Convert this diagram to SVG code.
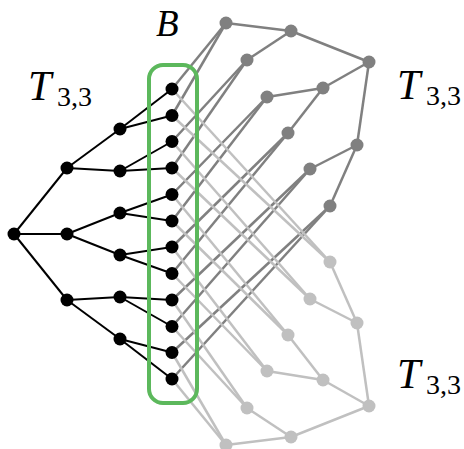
<svg xmlns="http://www.w3.org/2000/svg" width="464" height="449" viewBox="0 0 464 449">
<style>
.k line{stroke:#000;stroke-width:2}
.d line{stroke:#808080;stroke-width:2.5}
.l line{stroke:#c0c0c0;stroke-width:2.5}
.nk circle{fill:#000}
.nd circle{fill:#808080}
.nl circle{fill:#c0c0c0}
.m{font-family:"Liberation Serif",serif;font-style:italic;font-size:42px;fill:#000}
.b{font-family:"Liberation Serif",serif;font-style:italic;font-size:37px;fill:#000}
.s{font-family:"Liberation Serif",serif;font-style:normal;font-size:28px;fill:#000}
</style>
<rect width="464" height="449" fill="#fff"/>
<g id="connectors">
<g class="d">
<line x1="369" y1="62" x2="291" y2="31"/><line x1="369" y1="62" x2="323" y2="88"/><line x1="369" y1="62" x2="357" y2="145"/>
<line x1="291" y1="31" x2="226" y2="23"/><line x1="291" y1="31" x2="247" y2="60"/>
<line x1="323" y1="88" x2="267" y2="97"/><line x1="323" y1="88" x2="288" y2="133"/>
<line x1="357" y1="145" x2="310" y2="169"/><line x1="357" y1="145" x2="330" y2="206"/>
<line x1="226" y1="23" x2="172" y2="89"/><line x1="226" y1="23" x2="172" y2="115.5"/>
<line x1="247" y1="60" x2="172" y2="141.5"/><line x1="247" y1="60" x2="172" y2="168"/>
<line x1="267" y1="97" x2="172" y2="194.5"/><line x1="267" y1="97" x2="172" y2="221"/>
<line x1="288" y1="133" x2="172" y2="247"/><line x1="288" y1="133" x2="172" y2="273.5"/>
<line x1="310" y1="169" x2="172" y2="300"/><line x1="310" y1="169" x2="172" y2="326.5"/>
<line x1="330" y1="206" x2="172" y2="352.5"/><line x1="330" y1="206" x2="172" y2="379"/>
</g>
<g class="l">
<line x1="369" y1="406" x2="291" y2="437"/><line x1="369" y1="406" x2="323" y2="380"/><line x1="369" y1="406" x2="357" y2="323"/>
<line x1="291" y1="437" x2="226" y2="445"/><line x1="291" y1="437" x2="247" y2="408"/>
<line x1="323" y1="380" x2="267" y2="371"/><line x1="323" y1="380" x2="288" y2="335"/>
<line x1="357" y1="323" x2="310" y2="299"/><line x1="357" y1="323" x2="330" y2="262"/>
<line x1="226" y1="445" x2="172" y2="379"/><line x1="226" y1="445" x2="172" y2="352.5"/>
<line x1="247" y1="408" x2="172" y2="326.5"/><line x1="247" y1="408" x2="172" y2="300"/>
<line x1="267" y1="371" x2="172" y2="273.5"/><line x1="267" y1="371" x2="172" y2="247"/>
<line x1="288" y1="335" x2="172" y2="221"/><line x1="288" y1="335" x2="172" y2="194.5"/>
<line x1="310" y1="299" x2="172" y2="168"/><line x1="310" y1="299" x2="172" y2="141.5"/>
<line x1="330" y1="262" x2="172" y2="115.5"/><line x1="330" y1="262" x2="172" y2="89"/>
</g>
<g class="k">
<line x1="14" y1="234" x2="67" y2="168"/><line x1="14" y1="234" x2="67" y2="234"/><line x1="14" y1="234" x2="67" y2="300"/>
<line x1="67" y1="168" x2="120" y2="129"/><line x1="67" y1="168" x2="120" y2="171"/>
<line x1="67" y1="234" x2="120" y2="213"/><line x1="67" y1="234" x2="120" y2="255"/>
<line x1="67" y1="300" x2="120" y2="297"/><line x1="67" y1="300" x2="120" y2="339"/>
<line x1="120" y1="129" x2="172" y2="89"/><line x1="120" y1="129" x2="172" y2="115.5"/>
<line x1="120" y1="171" x2="172" y2="141.5"/><line x1="120" y1="171" x2="172" y2="168"/>
<line x1="120" y1="213" x2="172" y2="194.5"/><line x1="120" y1="213" x2="172" y2="221"/>
<line x1="120" y1="255" x2="172" y2="247"/><line x1="120" y1="255" x2="172" y2="273.5"/>
<line x1="120" y1="297" x2="172" y2="300"/><line x1="120" y1="297" x2="172" y2="326.5"/>
<line x1="120" y1="339" x2="172" y2="352.5"/><line x1="120" y1="339" x2="172" y2="379"/>
</g>
</g>
<g id="setB"><rect x="149" y="65" width="48" height="338" rx="14" fill="none" stroke="#5cb85c" stroke-width="4"/></g>
<g class="nd">
<g id="d-root"><circle cx="369" cy="62" r="6.5"/></g>
<g id="d-a"><circle cx="291" cy="31" r="6.5"/></g>
<g id="d-b"><circle cx="323" cy="88" r="6.5"/></g>
<g id="d-c"><circle cx="357" cy="145" r="6.5"/></g>
<g id="d0"><circle cx="226" cy="23" r="6.5"/></g>
<g id="d1"><circle cx="247" cy="60" r="6.5"/></g>
<g id="d2"><circle cx="267" cy="97" r="6.5"/></g>
<g id="d3"><circle cx="288" cy="133" r="6.5"/></g>
<g id="d4"><circle cx="310" cy="169" r="6.5"/></g>
<g id="d5"><circle cx="330" cy="206" r="6.5"/></g>
</g>
<g class="nl">
<g id="l-root"><circle cx="369" cy="406" r="6.5"/></g>
<g id="l-a"><circle cx="291" cy="437" r="6.5"/></g>
<g id="l-b"><circle cx="323" cy="380" r="6.5"/></g>
<g id="l-c"><circle cx="357" cy="323" r="6.5"/></g>
<g id="l0"><circle cx="226" cy="445" r="6.5"/></g>
<g id="l1"><circle cx="247" cy="408" r="6.5"/></g>
<g id="l2"><circle cx="267" cy="371" r="6.5"/></g>
<g id="l3"><circle cx="288" cy="335" r="6.5"/></g>
<g id="l4"><circle cx="310" cy="299" r="6.5"/></g>
<g id="l5"><circle cx="330" cy="262" r="6.5"/></g>
</g>
<g class="nk">
<g id="k-root"><circle cx="14" cy="234" r="6.5"/></g>
<g id="k-a"><circle cx="67" cy="168" r="6.5"/></g>
<g id="k-b"><circle cx="67" cy="234" r="6.5"/></g>
<g id="k-c"><circle cx="67" cy="300" r="6.5"/></g>
<g id="k-a1"><circle cx="120" cy="129" r="6.5"/></g>
<g id="k-a2"><circle cx="120" cy="171" r="6.5"/></g>
<g id="k-b1"><circle cx="120" cy="213" r="6.5"/></g>
<g id="k-b2"><circle cx="120" cy="255" r="6.5"/></g>
<g id="k-c1"><circle cx="120" cy="297" r="6.5"/></g>
<g id="k-c2"><circle cx="120" cy="339" r="6.5"/></g>
<g id="b0"><circle cx="172" cy="89" r="6.5"/></g>
<g id="b1"><circle cx="172" cy="115.5" r="6.5"/></g>
<g id="b2"><circle cx="172" cy="141.5" r="6.5"/></g>
<g id="b3"><circle cx="172" cy="168" r="6.5"/></g>
<g id="b4"><circle cx="172" cy="194.5" r="6.5"/></g>
<g id="b5"><circle cx="172" cy="221" r="6.5"/></g>
<g id="b6"><circle cx="172" cy="247" r="6.5"/></g>
<g id="b7"><circle cx="172" cy="273.5" r="6.5"/></g>
<g id="b8"><circle cx="172" cy="300" r="6.5"/></g>
<g id="b9"><circle cx="172" cy="326.5" r="6.5"/></g>
<g id="b10"><circle cx="172" cy="352.5" r="6.5"/></g>
<g id="b11"><circle cx="172" cy="379" r="6.5"/></g>
</g>
<g id="labels">
<text class="b" x="156" y="36">B</text>
<text class="m" x="28" y="100">T<tspan class="s" x="57" y="106">3,3</tspan></text>
<text class="m" x="397" y="99">T<tspan class="s" x="426" y="105">3,3</tspan></text>
<text class="m" x="397" y="388">T<tspan class="s" x="426" y="394">3,3</tspan></text>
</g>
</svg>
